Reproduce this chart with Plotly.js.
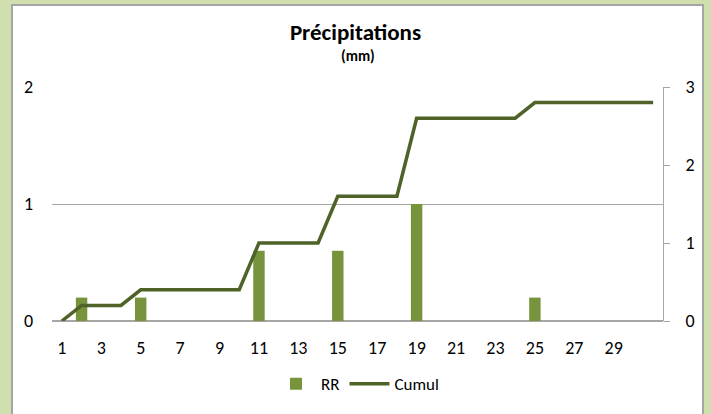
<!DOCTYPE html>
<html>
<head>
<meta charset="utf-8">
<script src="https://cdn.plot.ly/plotly-3.0.1.min.js"></script>
<style>
  html, body { margin: 0; padding: 0; width: 711px; height: 414px; overflow: hidden; background: #cfe0ae; }
  #frame { position: absolute; left: 11px; top: 4px; width: 693px; height: 430px; background: #ffffff; border: 2px solid #a5a5a5; box-sizing: border-box; }
  #chart { position: absolute; left: 0; top: 0; width: 711px; height: 414px; }
</style>
</head>
<body>
<div id="frame"></div>
<div id="chart"></div>
<script>
const days = [1,2,3,4,5,6,7,8,9,10,11,12,13,14,15,16,17,18,19,20,21,22,23,24,25,26,27,28,29,30,31];
const rr = [0,0.2,0,0,0.2,0,0,0,0,0,0.6,0,0,0,0.6,0,0,0,1.0,0,0,0,0,0,0.2,0,0,0,0,0,0];
const cumul = [0,0.2,0.2,0.2,0.4,0.4,0.4,0.4,0.4,0.4,1.0,1.0,1.0,1.0,1.6,1.6,1.6,1.6,2.6,2.6,2.6,2.6,2.6,2.6,2.8,2.8,2.8,2.8,2.8,2.8,2.8];
const xTicks = [1,3,5,7,9,11,13,15,17,19,21,23,25,27,29];
const leftTicks = [0,1,2];
const rightTicks = [0,1,2,3];

const font = 'Carlito, Lato, "Open Sans", sans-serif';

const traces = [
  {type: 'bar', name: 'RR', x: days, y: rr, marker: {color: '#77933c'}, yaxis: 'y'},
  {type: 'scatter', mode: 'lines', name: 'Cumul', x: days, y: cumul, line: {color: '#4f6228', width: 3.5}, yaxis: 'y2'}
];

const layout = {
  width: 711, height: 414,
  margin: {l: 52, r: 48, t: 87, b: 90},
  paper_bgcolor: 'rgba(0,0,0,0)',
  plot_bgcolor: 'rgba(0,0,0,0)',
  font: {family: font, size: 18, color: '#000000'},
  bargap: 0.42,
  showlegend: true,
  title: {
    text: '<b>Précipitations</b>',
    font: {family: font, size: 23, color: '#000000'},
    x: 0.5, xanchor: 'center', y: 1 - 32/414, yanchor: 'middle', yref: 'container'
  },
  annotations: [{
    text: '<b>(mm)</b>', xref: 'paper', yref: 'paper', x: 0.5, y: 1 + (87-56)/237, xanchor: 'center', yanchor: 'middle',
    showarrow: false, font: {family: font, size: 15, color: '#000000'}
  }],
  xaxis: {
    range: [0.5, 31.5], tickmode: 'array', tickvals: xTicks, ticktext: xTicks.map(String),
    showgrid: false, zeroline: false, showline: false, ticks: '', ticklen: 0, ticklabelstandoff: 14,
    tickfont: {family: font, size: 18}
  },
  yaxis: {
    range: [0, 2], tickmode: 'array', tickvals: leftTicks, ticktext: leftTicks.map(String),
    showgrid: true, gridcolor: '#a6a6a6', gridwidth: 1, zeroline: true, zerolinecolor: '#a6a6a6', zerolinewidth: 2,
    showline: false, ticks: '', ticklabelstandoff: 18,
    tickfont: {family: font, size: 18}
  },
  yaxis2: {
    range: [0, 3], overlaying: 'y', side: 'right', tickmode: 'array', tickvals: rightTicks, ticktext: rightTicks.map(String),
    showgrid: false, zeroline: false, showline: true, linecolor: '#a6a6a6', linewidth: 1,
    ticks: 'outside', ticklen: 6, tickcolor: '#a6a6a6', ticklabelstandoff: 12,
    tickfont: {family: font, size: 18}
  },
  legend: {
    orientation: 'h', x: 0.5, xanchor: 'center', y: -(388-324)/237, yanchor: 'middle',
    font: {family: font, size: 17}, bgcolor: 'rgba(0,0,0,0)', itemwidth: 40
  }
};

Plotly.newPlot('chart', traces, layout, {displayModeBar: false, staticPlot: true});
</script>
</body>
</html>
